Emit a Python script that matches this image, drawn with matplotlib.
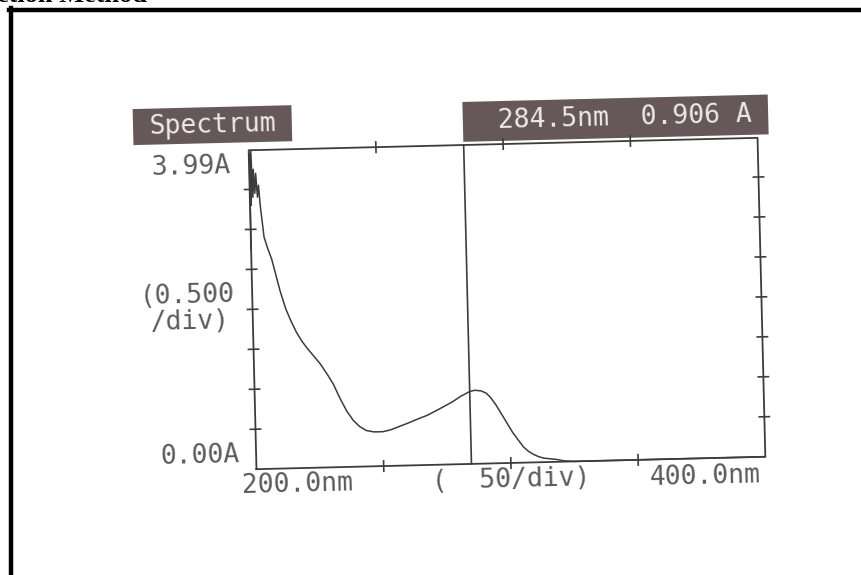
import matplotlib
matplotlib.use('Agg')
import matplotlib.pyplot as plt
from matplotlib.patches import Rectangle
from matplotlib.lines import Line2D
from matplotlib.transforms import Affine2D

comprimento = [200.0, 200.2, 200.5, 200.8, 201.2, 201.6, 202.0, 202.5, 203.0, 203.5,
               204.0, 204.6, 205.2, 206.5, 208.0, 209.5, 211.0, 213.0, 215.0, 217.0,
               219.0, 221.0, 223.0, 226.0, 229.0, 231.0, 233.5, 236.0, 238.5, 241.0,
               243.5, 246.5, 250.0, 253.0, 256.5, 260.0, 264.0, 267.5, 272.0, 277.5,
               281.0, 284.5, 286.5, 289.0, 291.0, 292.5, 294.5, 296.5, 298.5, 301.0,
               303.0, 305.0, 307.0, 309.0, 311.0, 313.0, 315.5, 318.0, 321.0, 325.0,
               400.0]
absorbancia = [2.75, 3.95, 3.30, 3.99, 3.40, 3.75, 3.45, 3.70, 3.40, 3.55,
               3.30, 3.10, 2.90, 2.76, 2.62, 2.42, 2.22, 2.00, 1.84, 1.70,
               1.59, 1.50, 1.42, 1.30, 1.15, 1.04, 0.86, 0.70, 0.58, 0.50,
               0.45, 0.43, 0.43, 0.45, 0.49, 0.53, 0.58, 0.62, 0.69, 0.78,
               0.85, 0.906, 0.92, 0.91, 0.88, 0.83, 0.74, 0.63, 0.52, 0.38,
               0.29, 0.20, 0.14, 0.10, 0.07, 0.05, 0.04, 0.03, 0.01, 0.0,
               0.0]

cursor_nm = 284.5
cursor_abs = 0.906
xticks = [250, 300, 350]
yticks = [0.5, 1.0, 1.5, 2.0, 2.5, 3.0, 3.5]
x_min, x_max = 200.0, 400.0
y_min, y_max = 0.0, 3.99

cinza = '#3c3c3c'
texto = '#5a5a5a'
caixa = '#665858'
fonte = 'DejaVu Sans Mono'

fig = plt.figure(figsize=(8.62, 5.75), dpi=100)
ax = fig.add_axes([252.5 / 862, 112 / 575, 509 / 862, 319 / 575])
ax.set_xlim(x_min, x_max)
ax.set_ylim(y_min, y_max)
ax.axis('off')

# a folha digitalizada está levemente girada
rot = Affine2D().rotate_deg_around(507, 271.5, 1.4)
td = ax.transData + rot
ta = ax.transAxes + rot
ang = 1.4

# moldura do gráfico
ax.plot([x_min, x_max, x_max, x_min, x_min], [y_min, y_min, y_max, y_max, y_min],
        color=cinza, lw=1.3, transform=td, clip_on=False)

# marcas em cruz
dx, dy = 2.0, 0.065
for xt in xticks:
    ax.plot([xt, xt], [y_min - dy, y_min + dy], color=cinza, lw=1.2, transform=td, clip_on=False)
    ax.plot([xt, xt], [y_max - dy, y_max + dy], color=cinza, lw=1.2, transform=td, clip_on=False)
for yt in yticks:
    ax.plot([x_min - dx, x_min + dx], [yt, yt], color=cinza, lw=1.2, transform=td, clip_on=False)
    ax.plot([x_max - dx, x_max + dx], [yt, yt], color=cinza, lw=1.2, transform=td, clip_on=False)

# cursor e espectro
ax.plot([cursor_nm, cursor_nm], [y_min, y_max], color=cinza, lw=1.2, transform=td, clip_on=False)
ax.plot(comprimento, absorbancia, color=cinza, lw=1.1, transform=td, clip_on=False)

# caixas de título
ax.add_patch(Rectangle((-0.226, 1.025), 0.312, 0.113, facecolor=caixa, edgecolor='none',
                       transform=ta, clip_on=False))
ax.add_patch(Rectangle((0.422, 1.01), 0.60, 0.125, facecolor=caixa, edgecolor='none',
                       transform=ta, clip_on=False))
ax.text(-0.07, 1.082, 'Spectrum', color='#f0eaea', fontsize=19, family=fonte,
        ha='center', va='center', transform=ta, rotation=ang, rotation_mode='anchor')
ax.text(0.74, 1.072, f'{cursor_nm:.1f}nm  {cursor_abs:.3f} A', color='#f0eaea', fontsize=19,
        family=fonte, ha='center', va='center', transform=ta, rotation=ang, rotation_mode='anchor')

# rótulos dos eixos
kw = dict(color=texto, fontsize=19, family=fonte, va='center', transform=ta,
          rotation=ang, rotation_mode='anchor')
ax.text(-0.036, 0.952, f'{y_max:.2f}A', ha='right', **kw)
ax.text(-0.034, 0.550, '(0.500', ha='right', **kw)
ax.text(-0.045, 0.466, '/div)', ha='right', **kw)
ax.text(-0.032, 0.046, f'{y_min:.2f}A', ha='right', **kw)
ax.text(-0.029, -0.052, f'{x_min:.1f}nm', ha='left', **kw)
ax.text(0.50, -0.055, '(  50/div)', ha='center', **kw)
ax.text(0.99, -0.058, f'{x_max:.1f}nm', ha='right', **kw)

# borda preta da página e título cortado
fig.add_artist(Line2D([11 / 862, 11 / 862], [0, 1 - 8 / 575], color='black', lw=3.2,
                      transform=fig.transFigure))
fig.add_artist(Line2D([9 / 862, 1], [1 - 10 / 575, 1 - 10 / 575], color='black', lw=3.2,
                      transform=fig.transFigure))
fig.text(-0.004, 1 - 2.5 / 575, 'ction Method', fontsize=19, fontweight='bold',
         family='Liberation Serif', va='baseline')

fig.savefig('out.png', dpi=100)
